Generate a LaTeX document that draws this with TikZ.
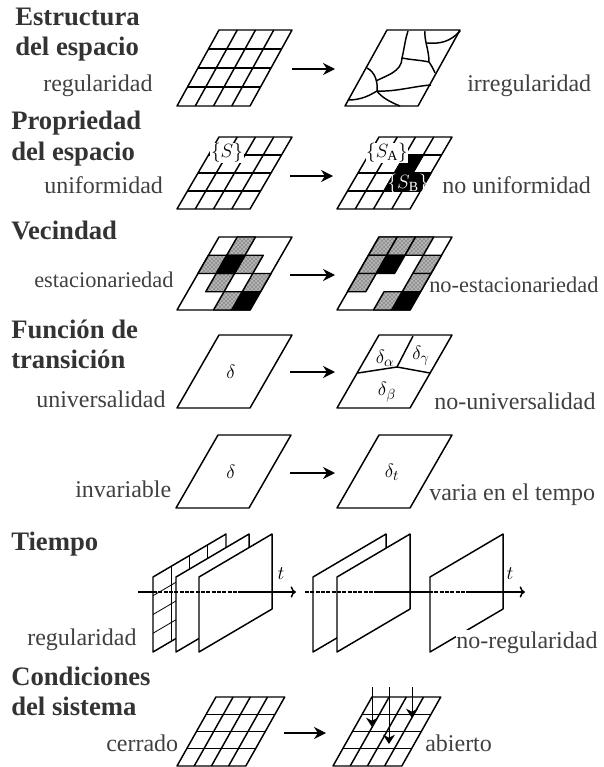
\documentclass[tikz,border=0pt]{standalone}
\usepackage{fontspec}
\setmainfont{Liberation Serif}
\usetikzlibrary{arrows.meta,patterns}
\tikzset{
  titulo/.style={anchor=base west,inner sep=0pt,text=black!80,font=\fontsize{20}{24}\selectfont\bfseries},
  etiqueta/.style={anchor=base west,inner sep=0pt,text=black!75,font=\fontsize{18}{22}\selectfont},
  estrecha/.style={anchor=base west,inner sep=0pt,text=black!75,font=\fontsize{16.8}{20}\selectfont},
  simbolo/.style={inner sep=0.5pt,font=\fontsize{15}{17}\selectfont},
  linea/.style={line width=1.1pt,line join=round},
  flecha/.style={line width=1.1pt,-{Stealth[length=9pt,width=9pt]}},
  caida/.style={line width=0.7pt,-{Stealth[length=7pt,width=9pt]}},
  eje/.style={line width=1.1pt},
  puntos/.style={line width=1.1pt,dash pattern=on 3pt off 1pt},
  plate/.style n args={3}{shift={(#1,#2)},x={(13.69pt,0pt)},y={(7.875pt,#3pt)}},
  chica/.style 2 args={shift={(#1,#2)},x={(12.9pt,0pt)},y={(7.3pt,12.94pt)}},
  plano/.style={shift={(#1,652)},x={(13.69pt,8.06pt)},y={(0pt,14.06pt)}},
  gris/.style={linea,preaction={fill=black!30},pattern=crosshatch dots,pattern color=black!80},
  negro/.style={linea,fill=black},
}
\newcommand{\marco}{\draw[linea] (0,0) -- (4,0) -- (4,4) -- (0,4) -- cycle;}
\newcommand{\rejilla}{%
  \foreach \k in {1,2,3} {
    \draw[linea] (\k,0) -- (\k,4);
    \draw[linea] (0,\k) -- (4,\k);
  }
  \marco}
\newcommand{\celda}[3]{\draw[#3] (#1,#2) -- ++(1,0) -- ++(0,1) -- ++(-1,0) -- cycle;}
\begin{document}
\begin{tikzpicture}[x=0.75pt,y=-0.75pt]
\useasboundingbox (0,0) rectangle (603,767);

% Estructura del espacio
\node[titulo] (estructura) at (15,26) {Estructura};
\node[titulo] (espacioa) at (15,56) {del espacio};
\node[etiqueta] (regular) at (43,92) {regularidad};
\node[etiqueta] (irregular) at (467,92) {irregularidad};
\begin{scope}[plate={177}{106}{14.25}]
  \rejilla
\end{scope}
\begin{scope}[plate={345}{106}{14.25}]
  \marco
\end{scope}
\coordinate (ja) at (402,58);
\coordinate (jb) at (429,62);
\coordinate (jc) at (377,91);
\draw[linea] (408,31) .. controls (405,40) and (404,50) .. (ja);
\draw[linea] (ja) .. controls (412,60) and (420,60) .. (jb) .. controls (431,65) and (433,68) .. (435,73);
\draw[linea] (425,31) .. controls (424,40) and (429,50) .. (jb);
\draw[linea] (427,43) .. controls (440,44) and (450,42) .. (460,31);
\draw[linea] (ja) .. controls (402,72) and (385,76) .. (376,81);
\draw[linea] (367,68) .. controls (375,72) and (378,82) .. (jc);
\draw[linea] (jc) .. controls (381,97) and (390,102) .. (400,106);
\draw[linea] (348,100) .. controls (362,100) and (370,95) .. (jc) .. controls (395,92) and (415,86) .. (431,85);

% Propriedad del espacio
\node[titulo] (propiedad) at (11,129) {Propriedad};
\node[titulo] (espaciob) at (11,160) {del espacio};
\node[etiqueta] (uniforme) at (44,193) {uniformidad};
\node[etiqueta] (nouniforme) at (442,193) {no uniformidad};
\begin{scope}[plate={177}{209}{13.5}]
  \rejilla
\end{scope}
\begin{scope}[plate={337}{209}{13.5}]
  \rejilla
  \celda{2}{2}{negro}
  \celda{2}{1}{negro}
  \celda{3}{1}{negro}
\end{scope}
\node[simbolo,fill=white] (s) at (227,153) {$\{S\}$};
\node[simbolo,fill=white] (sa) at (387,153) {$\{S_{\mathrm{A}}\}$};
\node[simbolo,text=white] (sb) at (408,184) {$\{S_{\mathrm{B}}\}$};

% Vecindad
\node[titulo] (vecindad) at (11,239) {Vecindad};
\node[estrecha] (estacion) at (34,287) {estacionariedad};
\node[estrecha] (noestacion) at (429,292) {no-estacionariedad};
\begin{scope}[plate={177}{310}{13.69}]
  \marco
  \foreach \c/\r in {1/3,0/2,2/2,1/1,3/1,2/0} {\celda{\c}{\r}{gris}}
  \foreach \c/\r in {1/2,3/0} {\celda{\c}{\r}{negro}}
\end{scope}
\begin{scope}[plate={337}{310}{13.69}]
  \marco
  \foreach \c/\r in {0/3,1/3,2/3,0/2,3/2,0/1,3/1,2/0} {\celda{\c}{\r}{gris}}
  \foreach \c/\r in {1/2,3/0} {\celda{\c}{\r}{negro}}
\end{scope}

% Funcion de transicion
\node[titulo] (funcion) at (11,338) {Función de};
\node[titulo] (transicion) at (11,368) {transición};
\node[etiqueta] (universal) at (36,407) {universalidad};
\node[etiqueta] (nouniversal) at (434,409) {no-universalidad};
\begin{scope}[plate={177}{408}{13.69}]
  \marco
\end{scope}
\begin{scope}[plate={337}{408}{13.69}]
  \marco
\end{scope}
\coordinate (jd) at (397,367);
\draw[linea] (358,373) -- (jd) -- (430,373);
\draw[linea] (jd) -- (413,336);
\node[simbolo] (d1) at (231,372) {$\delta$};
\node[simbolo] (da) at (385,358) {$\delta_{\alpha}$};
\node[simbolo] (dg) at (421,356) {$\delta_{\gamma}$};
\node[simbolo] (db) at (387,392) {$\delta_{\beta}$};

% invariable
\node[etiqueta] (invariable) at (75,497) {invariable};
\node[etiqueta] (varia) at (429,500) {varia en el tempo};
\begin{scope}[plate={176}{508}{13.69}]
  \marco
\end{scope}
\begin{scope}[plate={337}{508}{13.69}]
  \marco
\end{scope}
\node[simbolo] (d2) at (231,472) {$\delta$};
\node[simbolo] (dt) at (392,472) {$\delta_{t}$};

% Tiempo
\node[titulo] (tiempo) at (11,550) {Tiempo};
\node[etiqueta] (regularb) at (27,645) {regularidad};
\begin{scope}[plano=153]
  \foreach \k in {1,2,3} {
    \draw[line width=0.6pt] (\k,0) -- (\k,4);
    \draw[line width=0.6pt] (0,\k) -- (4,\k);
  }
  \marco
\end{scope}
\foreach \p in {176,199,313,337,430} {
  \begin{scope}[plano=\p]
    \draw[linea,fill=white] (0,0) -- (4,0) -- (4,4) -- (0,4) -- cycle;
  \end{scope}
}
\node[etiqueta,fill=white,inner ysep=1pt] (noregular) at (456,648) {no-regularidad};
\coordinate (ta) at (138,592);
\coordinate (tb) at (153,592);
\coordinate (tc) at (242,592);
\coordinate (td) at (296,592);
\coordinate (te) at (305,592);
\coordinate (tf) at (375,592);
\coordinate (tg) at (429,592);
\coordinate (th) at (469,592);
\coordinate (ti) at (525,592);
\draw[eje] (ta) -- (tb);
\draw[puntos] (tb) -- (tc);
\draw[eje,->] (tc) -- (td);
\draw[puntos] (te) -- (tf);
\draw[eje] (tf) -- (tg);
\draw[puntos] (tg) -- (th);
\draw[eje,->] (th) -- (ti);
\node[simbolo] (t1) at (281,574) {$t$};
\node[simbolo] (t2) at (510,574) {$t$};

% Condiciones del sistema
\node[titulo] (condiciones) at (11,685) {Condiciones};
\node[titulo] (sistema) at (11,715) {del sistema};
\node[etiqueta] (cerrado) at (106,751) {cerrado};
\node[etiqueta] (abierto) at (425,751) {abierto};
\begin{scope}[chica={177}{766}]
  \rejilla
\end{scope}
\begin{scope}[chica={333}{766}]
  \rejilla
\end{scope}
\foreach \n/\px/\pa/\pb in {a/372/687/727,b/389/687/744,c/412/687/718} {
  \coordinate (c\n) at (\px,\pa);
  \coordinate (f\n) at (\px,\pb);
  \draw[caida] (c\n) -- (f\n);
}

% flechas entre planos
\foreach \n/\pa/\pb/\py in {a/292/335/69,b/290/333/176,c/290/335/275,d/290/335/372,e/290/335/473,f/284/326/733} {
  \coordinate (i\n) at (\pa,\py);
  \coordinate (j\n) at (\pb,\py);
  \draw[flecha] (i\n) -- (j\n);
}

\end{tikzpicture}
\end{document}
